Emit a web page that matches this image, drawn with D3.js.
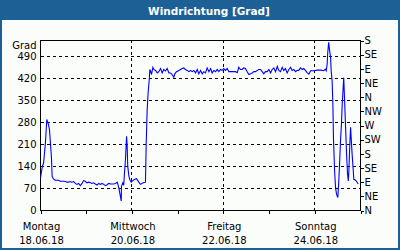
<!DOCTYPE html>
<html>
<head>
<meta charset="utf-8">
<script src="https://cdn.jsdelivr.net/npm/d3@7"></script>
<style>
    html, body { margin: 0; padding: 0; background: #fff; }
    svg { display: block; }
    text { font-family: 'DejaVu Sans', Verdana, sans-serif; }
</style>
</head>
<body>
<svg id="chart"></svg>
<script>
// hours since Monday 18.06.18 00:00
const hours = [
    0, 1.0, 1.6, 2.6, 3.3, 4.2, 4.7, 5.2, 5.8, 6.1, 6.7,
    7.7, 8.6, 9.5, 10.3, 11.2, 12.1, 13.0, 13.9, 14.7, 15.6, 16.5, 17.4, 18.3, 19.1,
    20.0, 20.9, 21.8, 22.6, 23.5, 24.4, 25.3, 26.2, 27.0, 27.9, 28.8, 29.7, 30.6, 31.4,
    32.3, 33.2, 34.1, 35.0, 35.8, 36.8, 38.3, 39.4, 40.3, 41.1, 41.6, 42.4, 42.5, 43.2,
    43.7, 44.1, 44.6, 45.2, 45.5, 45.8, 46.4, 46.9, 47.6, 49.0, 50.4, 51.6, 52.5, 53.9,
    55.1, 55.5, 56.0, 56.5, 57.1, 57.4, 57.75, 58.3, 59.0, 59.5, 60.4, 61.3, 62.1, 63.0,
    63.9, 64.7, 65.6, 66.5, 67.4, 68.3, 69.1, 70.0, 70.5, 71.4, 72.6, 73.5, 74.4, 75.2,
    76.1, 77.0, 77.9, 78.8, 79.6, 80.5, 81.4, 82.3, 83.1, 84.0, 84.9, 85.7, 86.6, 87.5,
    88.4, 89.3, 90.1, 91.0, 91.9, 92.8, 93.6, 94.5, 95.4, 96.2, 97.1, 98.0, 98.9, 100.6,
    102.4, 103.3, 104.1, 105.0, 105.9, 106.7, 107.6, 108.5, 109.4, 110.3, 111.1, 112.0,
    112.9, 113.8, 114.6, 115.5, 116.4, 117.2, 118.1, 119.0, 119.9, 120.8, 121.6, 122.5,
    123.4, 124.3, 125.1, 126.0, 126.9, 127.7, 128.6, 129.5, 130.4, 131.3, 132.1, 133.0,
    133.9, 134.8, 135.6, 136.5, 137.4, 138.2, 139.1, 140.0, 140.9, 141.8, 143.5, 145.3,
    147.0, 148.7, 149.6, 150.0, 150.5, 150.8, 151.3, 151.7, 152.3, 152.6, 153.1, 153.5,
    153.8, 154.4, 154.9, 155.4, 156.1, 156.6, 157.0, 157.5, 158.0, 158.4, 158.9, 159.2,
    159.6, 160.1, 160.7, 161.2, 161.6, 161.9, 162.4, 162.8, 163.1, 163.6, 164.2, 164.5,
    165.4, 166.3, 166.8
];
const grad = [
    104, 141, 150, 216, 289, 273, 257, 216, 162, 109, 101,
    96, 96, 96, 93, 93, 93, 92, 90, 90, 92, 90, 92, 86, 83,
    86, 79, 86, 95, 93, 88, 90, 88, 86, 88, 84, 81, 86, 83,
    86, 83, 79, 82, 86, 84, 84, 86, 90, 72, 56, 30, 77, 88,
    80, 120, 162, 236, 204, 141, 109, 98, 90, 98, 101, 90, 83, 88,
    90, 215, 321, 374, 416, 448, 443, 432, 455, 448, 445, 437, 441, 451,
    437, 448, 443, 451, 437, 437, 432, 423, 434, 441, 445, 448, 451, 453,
    448, 445, 441, 445, 441, 445, 437, 448, 434, 445, 434, 441, 437, 453,
    441, 451, 437, 445, 441, 448, 441, 448, 445, 451, 445, 451, 441, 441,
    441, 438, 455, 448, 448, 453, 451, 441, 432, 434, 437, 441,
    441, 445, 448, 448, 441, 434, 441, 441, 448, 437, 448, 453,
    441, 458, 445, 441, 455, 445, 451, 437, 448, 455, 445, 448,
    441, 445, 445, 453, 448, 451, 445, 438, 433, 444, 444, 446,
    446, 444, 449, 444, 465, 502, 534, 512, 486, 444, 412, 338,
    232, 126, 73, 52, 41, 94, 147, 221, 274, 338, 391, 422,
    359, 274, 179, 115, 94, 126, 211, 264, 232, 179, 126, 99,
    96, 89, 84
];

const leftTicks = [0, 70, 140, 210, 280, 350, 420, 490];
const compassTicks = [0, 45, 90, 135, 180, 225, 270, 315, 360, 405, 450, 495, 540];
const compassLabels = ['N', 'NE', 'E', 'SE', 'S', 'SW', 'W', 'NW', 'N', 'NE', 'E', 'SE', 'S'];
const dayTicks = [0, 24, 48, 72, 96, 120, 144, 168];
const gridDays = [48, 96, 144];
const labelDays = [0, 48, 96, 144];
const dayNames = ['Montag', 'Mittwoch', 'Freitag', 'Sonntag'];
const dayDates = ['18.06.18', '20.06.18', '22.06.18', '24.06.18'];

(function () {
    const W = 400, H = 250;
    const FS = 10;
    const svg = d3.select('#chart').attr('width', W).attr('height', H);

    // card + title bar
    svg.append('rect').attr('width', W).attr('height', H).attr('fill', '#1c6096');
    svg.append('rect')
        .attr('x', 2).attr('y', 20).attr('width', W - 4).attr('height', H - 22)
        .attr('fill', '#fbfdfb');
    svg.append('text')
        .attr('x', 209).attr('y', 14.5)
        .attr('text-anchor', 'middle')
        .attr('fill', '#fff')
        .attr('font-weight', 'bold')
        .attr('font-size', 10.5)
        .text('Windrichtung [Grad]');

    const x = d3.scaleLinear().domain([0, 168]).range([40.5, 360.5]);
    const y = d3.scaleLinear().domain([0, 540]).range([210.5, 40.5]);

    // grid
    const grid = svg.append('g')
        .attr('stroke', '#000')
        .attr('stroke-dasharray', '3,3')
        .attr('shape-rendering', 'crispEdges');
    grid.selectAll('.h').data(leftTicks.filter(d => d > 0)).join('line')
        .attr('x1', x(0)).attr('x2', x(168))
        .attr('y1', d => y(d)).attr('y2', d => y(d));
    grid.selectAll('.v').data(gridDays).join('line')
        .attr('x1', d => x(d)).attr('x2', d => x(d))
        .attr('y1', y(0)).attr('y2', y(540));

    // frame
    svg.append('rect')
        .attr('x', x(0)).attr('y', y(540))
        .attr('width', x(168) - x(0)).attr('height', y(0) - y(540))
        .attr('fill', 'none').attr('stroke', '#000')
        .attr('shape-rendering', 'crispEdges');

    // axes
    const leftAxis = svg.append('g')
        .attr('transform', `translate(${x(0)},0)`)
        .call(d3.axisLeft(y).tickValues(leftTicks).tickSize(0).tickPadding(4));
    svg.append('text')
        .attr('x', 36.5).attr('y', 48.5)
        .attr('text-anchor', 'end')
        .attr('font-size', FS)
        .text('Grad');

    const rightAxis = svg.append('g')
        .attr('transform', `translate(${x(168)},0)`)
        .call(d3.axisRight(y).tickValues(compassTicks).tickSize(3).tickPadding(1)
            .tickFormat((d, i) => compassLabels[i]));

    const bottomAxis = svg.append('g')
        .attr('transform', `translate(0,${y(0)})`)
        .call(d3.axisBottom(x).tickValues(dayTicks).tickSize(3).tickFormat(''));

    [leftAxis, rightAxis, bottomAxis].forEach(g => {
        g.select('.domain').remove();
        g.selectAll('line').attr('stroke', '#000').attr('shape-rendering', 'crispEdges');
        g.selectAll('text').attr('font-size', FS).attr('fill', '#000')
            .attr('font-family', "'DejaVu Sans', Verdana, sans-serif");
    });

    const lbl = svg.append('g').attr('font-size', FS).attr('text-anchor', 'middle');
    lbl.selectAll('.n').data(labelDays).join('text')
        .attr('x', d => x(d) + 1).attr('y', 229.5)
        .text((d, i) => dayNames[i]);
    lbl.selectAll('.d').data(labelDays).join('text')
        .attr('x', d => x(d) + 1).attr('y', 244)
        .text((d, i) => dayDates[i]);

    // series
    const line = d3.line()
        .x(d => x(d[0]))
        .y(d => y(d[1]));
    svg.append('path')
        .datum(hours.map((h, i) => [h, grad[i]]))
        .attr('d', line)
        .attr('fill', 'none')
        .attr('stroke', '#0000ff')
        .attr('stroke-width', 1.1);
})();
</script>
</body>
</html>
